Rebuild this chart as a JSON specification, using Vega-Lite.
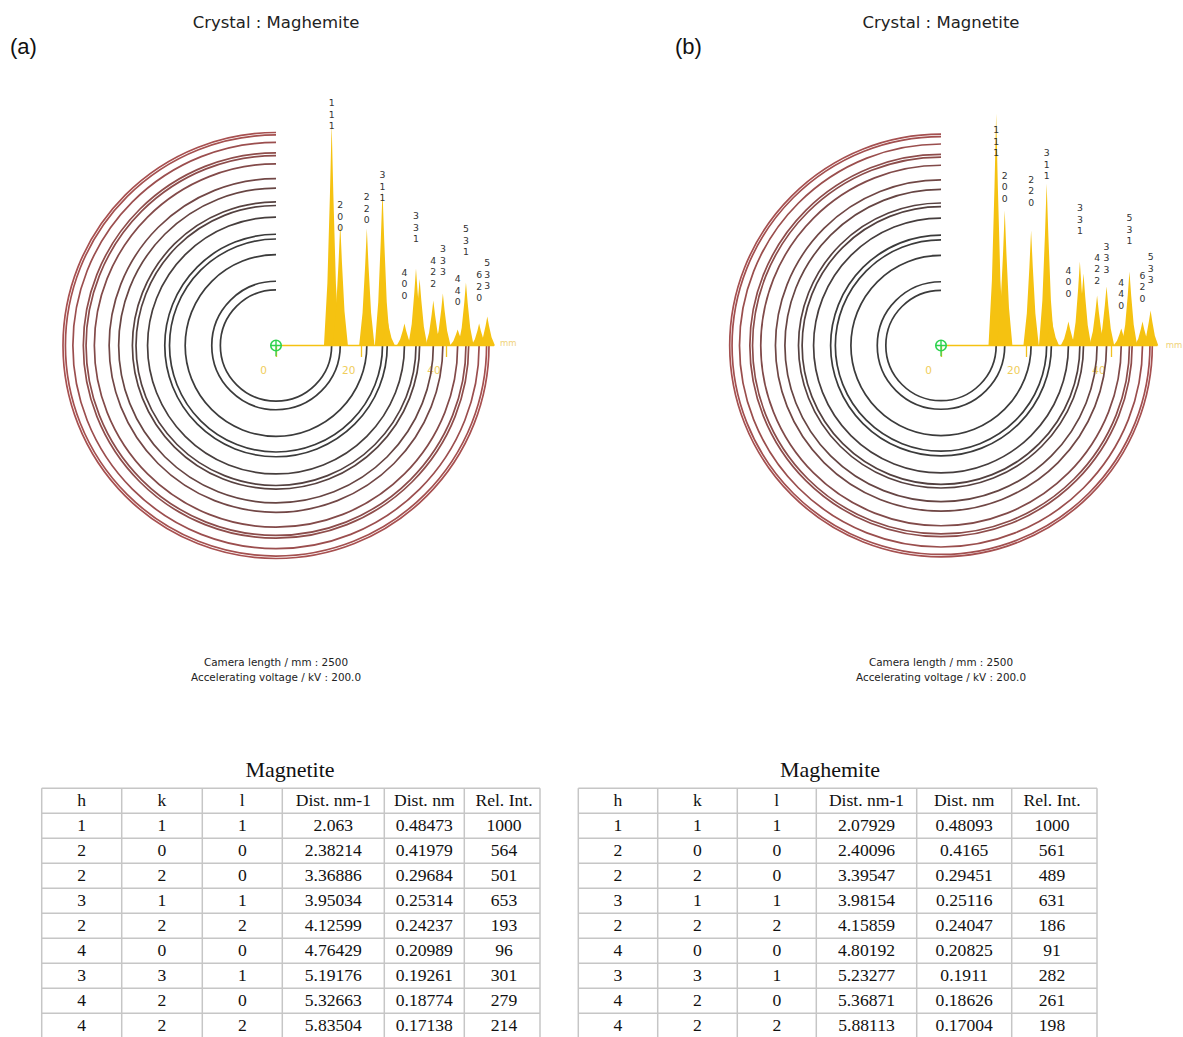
{
"$schema": "https://vega.github.io/schema/vega-lite/v6.json",
"width": 1183, "height": 1037, "autosize": "none", "padding": 0, "background": "white",
"config": {"view": {"stroke": null}},
"data": {"values": [{}]},
"datasets": {
"ringsA": [{"hkl":"111","r":13.06},{"hkl":"200","r":15.08},{"hkl":"220","r":21.32},{"hkl":"311","r":25.0},{"hkl":"222","r":26.11},{"hkl":"400","r":30.15},{"hkl":"331","r":32.86},{"hkl":"420","r":33.71},{"hkl":"422","r":36.93},{"hkl":"333","r":39.17},{"hkl":"440","r":42.64},{"hkl":"531","r":44.59},{"hkl":"442","r":45.23},{"hkl":"620","r":47.68},{"hkl":"533","r":49.43},{"hkl":"622","r":50.0}],
"ringsB": [{"hkl":"111","r":12.95},{"hkl":"200","r":14.96},{"hkl":"220","r":21.15},{"hkl":"311","r":24.8},{"hkl":"222","r":25.91},{"hkl":"400","r":29.91},{"hkl":"331","r":32.6},{"hkl":"420","r":33.45},{"hkl":"422","r":36.64},{"hkl":"333","r":38.86},{"hkl":"440","r":42.31},{"hkl":"531","r":44.24},{"hkl":"442","r":44.87},{"hkl":"620","r":47.3},{"hkl":"533","r":49.05},{"hkl":"622","r":49.6}],
"labA": [{"hkl":["1","1","1"],"r":13.06,"ly":1110},{"hkl":["2","0","0"],"r":15.08,"ly":650},{"hkl":["2","2","0"],"r":21.32,"ly":685},{"hkl":["3","1","1"],"r":25.0,"ly":786},{"hkl":["4","0","0"],"r":30.15,"ly":346},{"hkl":["3","3","1"],"r":32.86,"ly":601},{"hkl":["4","2","2"],"r":36.93,"ly":400},{"hkl":["3","3","3"],"r":39.17,"ly":451},{"hkl":["4","4","0"],"r":42.64,"ly":317},{"hkl":["5","3","1"],"r":44.59,"ly":541},{"hkl":["6","2","0"],"r":47.68,"ly":335},{"hkl":["5","3","3"],"r":49.6,"ly":389}],
"labB": [{"hkl":["1","1","1"],"r":12.95,"ly":946},{"hkl":["2","0","0"],"r":14.96,"ly":748},{"hkl":["2","2","0"],"r":21.15,"ly":731},{"hkl":["3","1","1"],"r":24.8,"ly":846},{"hkl":["4","0","0"],"r":29.91,"ly":340},{"hkl":["3","3","1"],"r":32.6,"ly":609},{"hkl":["4","2","2"],"r":36.64,"ly":396},{"hkl":["3","3","3"],"r":38.86,"ly":443},{"hkl":["4","4","0"],"r":42.31,"ly":287},{"hkl":["5","3","1"],"r":44.24,"ly":566},{"hkl":["6","2","0"],"r":47.3,"ly":318},{"hkl":["5","3","3"],"r":49.2,"ly":397}],
"profA": [
{"p":"111","x":11.26,"y":0},{"p":"111","x":12.06,"y":280},{"p":"111","x":12.66,"y":680},{"p":"111","x":13.06,"y":1000},{"p":"111","x":13.46,"y":680},{"p":"111","x":14.06,"y":280},{"p":"111","x":14.86,"y":0},
{"p":"200","x":13.28,"y":0},{"p":"200","x":14.08,"y":154},{"p":"200","x":14.68,"y":374},{"p":"200","x":15.08,"y":550},{"p":"200","x":15.48,"y":374},{"p":"200","x":16.08,"y":154},{"p":"200","x":16.88,"y":0},
{"p":"220","x":19.52,"y":0},{"p":"220","x":20.32,"y":148},{"p":"220","x":20.92,"y":358},{"p":"220","x":21.32,"y":527},{"p":"220","x":21.72,"y":358},{"p":"220","x":22.32,"y":148},{"p":"220","x":23.12,"y":0},
{"p":"311","x":23.2,"y":0},{"p":"311","x":24.0,"y":195},{"p":"311","x":24.6,"y":475},{"p":"311","x":25.0,"y":698},{"p":"311","x":25.4,"y":475},{"p":"311","x":26.0,"y":195},{"p":"311","x":26.8,"y":0},
{"p":"222","x":24.31,"y":0},{"p":"222","x":25.11,"y":34},{"p":"222","x":25.71,"y":82},{"p":"222","x":26.11,"y":120},{"p":"222","x":26.51,"y":82},{"p":"222","x":27.11,"y":34},{"p":"222","x":27.91,"y":0},
{"p":"400","x":28.35,"y":0},{"p":"400","x":29.15,"y":28},{"p":"400","x":29.75,"y":67},{"p":"400","x":30.15,"y":99},{"p":"400","x":30.55,"y":67},{"p":"400","x":31.15,"y":28},{"p":"400","x":31.95,"y":0},
{"p":"331","x":31.06,"y":0},{"p":"331","x":31.86,"y":97},{"p":"331","x":32.46,"y":236},{"p":"331","x":32.86,"y":347},{"p":"331","x":33.26,"y":236},{"p":"331","x":33.86,"y":97},{"p":"331","x":34.66,"y":0},
{"p":"420","x":31.91,"y":0},{"p":"420","x":32.71,"y":84},{"p":"420","x":33.31,"y":204},{"p":"420","x":33.71,"y":300},{"p":"420","x":34.11,"y":204},{"p":"420","x":34.71,"y":84},{"p":"420","x":35.51,"y":0},
{"p":"422","x":35.13,"y":0},{"p":"422","x":35.93,"y":57},{"p":"422","x":36.53,"y":138},{"p":"422","x":36.93,"y":203},{"p":"422","x":37.33,"y":138},{"p":"422","x":37.93,"y":57},{"p":"422","x":38.73,"y":0},
{"p":"333","x":37.37,"y":0},{"p":"333","x":38.17,"y":66},{"p":"333","x":38.77,"y":159},{"p":"333","x":39.17,"y":234},{"p":"333","x":39.57,"y":159},{"p":"333","x":40.17,"y":66},{"p":"333","x":40.97,"y":0},
{"p":"440","x":40.84,"y":0},{"p":"440","x":41.64,"y":20},{"p":"440","x":42.24,"y":49},{"p":"440","x":42.64,"y":72},{"p":"440","x":43.04,"y":49},{"p":"440","x":43.64,"y":20},{"p":"440","x":44.44,"y":0},
{"p":"531","x":42.79,"y":0},{"p":"531","x":43.59,"y":80},{"p":"531","x":44.19,"y":193},{"p":"531","x":44.59,"y":284},{"p":"531","x":44.99,"y":193},{"p":"531","x":45.59,"y":80},{"p":"531","x":46.39,"y":0},
{"p":"620","x":45.88,"y":0},{"p":"620","x":46.68,"y":28},{"p":"620","x":47.28,"y":67},{"p":"620","x":47.68,"y":99},{"p":"620","x":48.08,"y":67},{"p":"620","x":48.68,"y":28},{"p":"620","x":49.48,"y":0},
{"p":"533","x":47.8,"y":0},{"p":"533","x":48.6,"y":37},{"p":"533","x":49.2,"y":89},{"p":"533","x":49.6,"y":131},{"p":"533","x":50.0,"y":89},{"p":"533","x":50.6,"y":37},{"p":"533","x":51.4,"y":0}],
"profB": [
{"p":"111","x":11.15,"y":0},{"p":"111","x":11.95,"y":280},{"p":"111","x":12.55,"y":680},{"p":"111","x":12.95,"y":1000},{"p":"111","x":13.35,"y":680},{"p":"111","x":13.95,"y":280},{"p":"111","x":14.75,"y":0},
{"p":"200","x":13.16,"y":0},{"p":"200","x":13.96,"y":163},{"p":"200","x":14.56,"y":396},{"p":"200","x":14.96,"y":582},{"p":"200","x":15.36,"y":396},{"p":"200","x":15.96,"y":163},{"p":"200","x":16.76,"y":0},
{"p":"220","x":19.35,"y":0},{"p":"220","x":20.15,"y":139},{"p":"220","x":20.75,"y":337},{"p":"220","x":21.15,"y":496},{"p":"220","x":21.55,"y":337},{"p":"220","x":22.15,"y":139},{"p":"220","x":22.95,"y":0},
{"p":"311","x":23.0,"y":0},{"p":"311","x":23.8,"y":195},{"p":"311","x":24.4,"y":475},{"p":"311","x":24.8,"y":698},{"p":"311","x":25.2,"y":475},{"p":"311","x":25.8,"y":195},{"p":"311","x":26.6,"y":0},
{"p":"222","x":24.11,"y":0},{"p":"222","x":24.91,"y":34},{"p":"222","x":25.51,"y":82},{"p":"222","x":25.91,"y":120},{"p":"222","x":26.31,"y":82},{"p":"222","x":26.91,"y":34},{"p":"222","x":27.71,"y":0},
{"p":"400","x":28.11,"y":0},{"p":"400","x":28.91,"y":29},{"p":"400","x":29.51,"y":70},{"p":"400","x":29.91,"y":103},{"p":"400","x":30.31,"y":70},{"p":"400","x":30.91,"y":29},{"p":"400","x":31.71,"y":0},
{"p":"331","x":30.8,"y":0},{"p":"331","x":31.6,"y":101},{"p":"331","x":32.2,"y":246},{"p":"331","x":32.6,"y":362},{"p":"331","x":33.0,"y":246},{"p":"331","x":33.6,"y":101},{"p":"331","x":34.4,"y":0},
{"p":"420","x":31.65,"y":0},{"p":"420","x":32.45,"y":87},{"p":"420","x":33.05,"y":211},{"p":"420","x":33.45,"y":310},{"p":"420","x":33.85,"y":211},{"p":"420","x":34.45,"y":87},{"p":"420","x":35.25,"y":0},
{"p":"422","x":34.84,"y":0},{"p":"422","x":35.64,"y":60},{"p":"422","x":36.24,"y":147},{"p":"422","x":36.64,"y":216},{"p":"422","x":37.04,"y":147},{"p":"422","x":37.64,"y":60},{"p":"422","x":38.44,"y":0},
{"p":"333","x":37.06,"y":0},{"p":"333","x":37.86,"y":71},{"p":"333","x":38.46,"y":173},{"p":"333","x":38.86,"y":254},{"p":"333","x":39.26,"y":173},{"p":"333","x":39.86,"y":71},{"p":"333","x":40.66,"y":0},
{"p":"440","x":40.51,"y":0},{"p":"440","x":41.31,"y":20},{"p":"440","x":41.91,"y":50},{"p":"440","x":42.31,"y":73},{"p":"440","x":42.71,"y":50},{"p":"440","x":43.31,"y":20},{"p":"440","x":44.11,"y":0},
{"p":"531","x":42.44,"y":0},{"p":"531","x":43.24,"y":89},{"p":"531","x":43.84,"y":217},{"p":"531","x":44.24,"y":319},{"p":"531","x":44.64,"y":217},{"p":"531","x":45.24,"y":89},{"p":"531","x":46.04,"y":0},
{"p":"620","x":45.5,"y":0},{"p":"620","x":46.3,"y":29},{"p":"620","x":46.9,"y":70},{"p":"620","x":47.3,"y":103},{"p":"620","x":47.7,"y":70},{"p":"620","x":48.3,"y":29},{"p":"620","x":49.1,"y":0},
{"p":"533","x":47.4,"y":0},{"p":"533","x":48.2,"y":42},{"p":"533","x":48.8,"y":103},{"p":"533","x":49.2,"y":151},{"p":"533","x":49.6,"y":103},{"p":"533","x":50.2,"y":42},{"p":"533","x":51.0,"y":0}],
"tabA": [
{"row":0,"h":"h","k":"k","l":"l","g":"Dist. nm-1","d":"Dist. nm","I":"Rel. Int."},
{"row":1,"h":"1","k":"1","l":"1","g":"2.063","d":"0.48473","I":"1000"},
{"row":2,"h":"2","k":"0","l":"0","g":"2.38214","d":"0.41979","I":"564"},
{"row":3,"h":"2","k":"2","l":"0","g":"3.36886","d":"0.29684","I":"501"},
{"row":4,"h":"3","k":"1","l":"1","g":"3.95034","d":"0.25314","I":"653"},
{"row":5,"h":"2","k":"2","l":"2","g":"4.12599","d":"0.24237","I":"193"},
{"row":6,"h":"4","k":"0","l":"0","g":"4.76429","d":"0.20989","I":"96"},
{"row":7,"h":"3","k":"3","l":"1","g":"5.19176","d":"0.19261","I":"301"},
{"row":8,"h":"4","k":"2","l":"0","g":"5.32663","d":"0.18774","I":"279"},
{"row":9,"h":"4","k":"2","l":"2","g":"5.83504","d":"0.17138","I":"214"}],
"tabB": [
{"row":0,"h":"h","k":"k","l":"l","g":"Dist. nm-1","d":"Dist. nm","I":"Rel. Int."},
{"row":1,"h":"1","k":"1","l":"1","g":"2.07929","d":"0.48093","I":"1000"},
{"row":2,"h":"2","k":"0","l":"0","g":"2.40096","d":"0.4165","I":"561"},
{"row":3,"h":"2","k":"2","l":"0","g":"3.39547","d":"0.29451","I":"489"},
{"row":4,"h":"3","k":"1","l":"1","g":"3.98154","d":"0.25116","I":"631"},
{"row":5,"h":"2","k":"2","l":"2","g":"4.15859","d":"0.24047","I":"186"},
{"row":6,"h":"4","k":"0","l":"0","g":"4.80192","d":"0.20825","I":"91"},
{"row":7,"h":"3","k":"3","l":"1","g":"5.23277","d":"0.1911","I":"282"},
{"row":8,"h":"4","k":"2","l":"0","g":"5.36871","d":"0.18626","I":"261"},
{"row":9,"h":"4","k":"2","l":"2","g":"5.88113","d":"0.17004","I":"198"}]
},
"layer": [
{"data":{"name":"tabA"},"mark":{"type":"rule","color":"#c6c6c6","strokeWidth":1.5,"yOffset":-12.5},"encoding":{"x":{"datum":41.7,"type":"quantitative","scale":{"domain":[0,1183],"nice":false,"zero":false},"axis":null},"x2":{"datum":540},"y":{"field":"row","type":"quantitative","scale":{"domain":[-32.028,9.452],"nice":false,"zero":false,"reverse":true},"axis":null}}},
{"data":{"name":"tabB"},"mark":{"type":"rule","color":"#c6c6c6","strokeWidth":1.5,"yOffset":-12.5},"encoding":{"x":{"datum":578.3,"type":"quantitative","scale":{"domain":[0,1183],"nice":false,"zero":false},"axis":null},"x2":{"datum":1097},"y":{"field":"row","type":"quantitative","scale":{"domain":[-32.028,9.452],"nice":false,"zero":false,"reverse":true},"axis":null}}},
{"layer":[
{"mark":{"type":"rule","color":"#c6c6c6","strokeWidth":1.5},"encoding":{"x":{"datum":41.7,"type":"quantitative","scale":{"domain":[0,1183],"nice":false,"zero":false},"axis":null},"y":{"datum":-0.5,"type":"quantitative","scale":{"domain":[-32.028,9.452],"nice":false,"zero":false,"reverse":true},"axis":null},"y2":{"datum":9.6}}},
{"mark":{"type":"rule","color":"#c6c6c6","strokeWidth":1.5},"encoding":{"x":{"datum":121.7,"type":"quantitative","scale":{"domain":[0,1183],"nice":false,"zero":false},"axis":null},"y":{"datum":-0.5,"type":"quantitative","scale":{"domain":[-32.028,9.452],"nice":false,"zero":false,"reverse":true},"axis":null},"y2":{"datum":9.6}}},
{"mark":{"type":"rule","color":"#c6c6c6","strokeWidth":1.5},"encoding":{"x":{"datum":202.3,"type":"quantitative","scale":{"domain":[0,1183],"nice":false,"zero":false},"axis":null},"y":{"datum":-0.5,"type":"quantitative","scale":{"domain":[-32.028,9.452],"nice":false,"zero":false,"reverse":true},"axis":null},"y2":{"datum":9.6}}},
{"mark":{"type":"rule","color":"#c6c6c6","strokeWidth":1.5},"encoding":{"x":{"datum":282.3,"type":"quantitative","scale":{"domain":[0,1183],"nice":false,"zero":false},"axis":null},"y":{"datum":-0.5,"type":"quantitative","scale":{"domain":[-32.028,9.452],"nice":false,"zero":false,"reverse":true},"axis":null},"y2":{"datum":9.6}}},
{"mark":{"type":"rule","color":"#c6c6c6","strokeWidth":1.5},"encoding":{"x":{"datum":384.3,"type":"quantitative","scale":{"domain":[0,1183],"nice":false,"zero":false},"axis":null},"y":{"datum":-0.5,"type":"quantitative","scale":{"domain":[-32.028,9.452],"nice":false,"zero":false,"reverse":true},"axis":null},"y2":{"datum":9.6}}},
{"mark":{"type":"rule","color":"#c6c6c6","strokeWidth":1.5},"encoding":{"x":{"datum":464.3,"type":"quantitative","scale":{"domain":[0,1183],"nice":false,"zero":false},"axis":null},"y":{"datum":-0.5,"type":"quantitative","scale":{"domain":[-32.028,9.452],"nice":false,"zero":false,"reverse":true},"axis":null},"y2":{"datum":9.6}}},
{"mark":{"type":"rule","color":"#c6c6c6","strokeWidth":1.5},"encoding":{"x":{"datum":540,"type":"quantitative","scale":{"domain":[0,1183],"nice":false,"zero":false},"axis":null},"y":{"datum":-0.5,"type":"quantitative","scale":{"domain":[-32.028,9.452],"nice":false,"zero":false,"reverse":true},"axis":null},"y2":{"datum":9.6}}},
{"mark":{"type":"rule","color":"#c6c6c6","strokeWidth":1.5},"encoding":{"x":{"datum":578.3,"type":"quantitative","scale":{"domain":[0,1183],"nice":false,"zero":false},"axis":null},"y":{"datum":-0.5,"type":"quantitative","scale":{"domain":[-32.028,9.452],"nice":false,"zero":false,"reverse":true},"axis":null},"y2":{"datum":9.6}}},
{"mark":{"type":"rule","color":"#c6c6c6","strokeWidth":1.5},"encoding":{"x":{"datum":657.7,"type":"quantitative","scale":{"domain":[0,1183],"nice":false,"zero":false},"axis":null},"y":{"datum":-0.5,"type":"quantitative","scale":{"domain":[-32.028,9.452],"nice":false,"zero":false,"reverse":true},"axis":null},"y2":{"datum":9.6}}},
{"mark":{"type":"rule","color":"#c6c6c6","strokeWidth":1.5},"encoding":{"x":{"datum":737.3,"type":"quantitative","scale":{"domain":[0,1183],"nice":false,"zero":false},"axis":null},"y":{"datum":-0.5,"type":"quantitative","scale":{"domain":[-32.028,9.452],"nice":false,"zero":false,"reverse":true},"axis":null},"y2":{"datum":9.6}}},
{"mark":{"type":"rule","color":"#c6c6c6","strokeWidth":1.5},"encoding":{"x":{"datum":816.3,"type":"quantitative","scale":{"domain":[0,1183],"nice":false,"zero":false},"axis":null},"y":{"datum":-0.5,"type":"quantitative","scale":{"domain":[-32.028,9.452],"nice":false,"zero":false,"reverse":true},"axis":null},"y2":{"datum":9.6}}},
{"mark":{"type":"rule","color":"#c6c6c6","strokeWidth":1.5},"encoding":{"x":{"datum":916.7,"type":"quantitative","scale":{"domain":[0,1183],"nice":false,"zero":false},"axis":null},"y":{"datum":-0.5,"type":"quantitative","scale":{"domain":[-32.028,9.452],"nice":false,"zero":false,"reverse":true},"axis":null},"y2":{"datum":9.6}}},
{"mark":{"type":"rule","color":"#c6c6c6","strokeWidth":1.5},"encoding":{"x":{"datum":1011.7,"type":"quantitative","scale":{"domain":[0,1183],"nice":false,"zero":false},"axis":null},"y":{"datum":-0.5,"type":"quantitative","scale":{"domain":[-32.028,9.452],"nice":false,"zero":false,"reverse":true},"axis":null},"y2":{"datum":9.6}}},
{"mark":{"type":"rule","color":"#c6c6c6","strokeWidth":1.5},"encoding":{"x":{"datum":1097,"type":"quantitative","scale":{"domain":[0,1183],"nice":false,"zero":false},"axis":null},"y":{"datum":-0.5,"type":"quantitative","scale":{"domain":[-32.028,9.452],"nice":false,"zero":false,"reverse":true},"axis":null},"y2":{"datum":9.6}}},
{"data":{"name":"tabA"},"mark":{"type":"text","font":"Liberation Serif","fontSize":17.6,"color":"#111","align":"center","baseline":"middle"},"encoding":{"x":{"datum":81.7,"type":"quantitative","scale":{"domain":[0,1183],"nice":false,"zero":false},"axis":null},"y":{"field":"row","type":"quantitative","scale":{"domain":[-32.028,9.452],"nice":false,"zero":false,"reverse":true},"axis":null},"text":{"field":"h","type":"nominal"}}},
{"data":{"name":"tabA"},"mark":{"type":"text","font":"Liberation Serif","fontSize":17.6,"color":"#111","align":"center","baseline":"middle"},"encoding":{"x":{"datum":162,"type":"quantitative","scale":{"domain":[0,1183],"nice":false,"zero":false},"axis":null},"y":{"field":"row","type":"quantitative","scale":{"domain":[-32.028,9.452],"nice":false,"zero":false,"reverse":true},"axis":null},"text":{"field":"k","type":"nominal"}}},
{"data":{"name":"tabA"},"mark":{"type":"text","font":"Liberation Serif","fontSize":17.6,"color":"#111","align":"center","baseline":"middle"},"encoding":{"x":{"datum":242.3,"type":"quantitative","scale":{"domain":[0,1183],"nice":false,"zero":false},"axis":null},"y":{"field":"row","type":"quantitative","scale":{"domain":[-32.028,9.452],"nice":false,"zero":false,"reverse":true},"axis":null},"text":{"field":"l","type":"nominal"}}},
{"data":{"name":"tabA"},"mark":{"type":"text","font":"Liberation Serif","fontSize":17.6,"color":"#111","align":"center","baseline":"middle"},"encoding":{"x":{"datum":333.3,"type":"quantitative","scale":{"domain":[0,1183],"nice":false,"zero":false},"axis":null},"y":{"field":"row","type":"quantitative","scale":{"domain":[-32.028,9.452],"nice":false,"zero":false,"reverse":true},"axis":null},"text":{"field":"g","type":"nominal"}}},
{"data":{"name":"tabA"},"mark":{"type":"text","font":"Liberation Serif","fontSize":17.6,"color":"#111","align":"center","baseline":"middle"},"encoding":{"x":{"datum":424.3,"type":"quantitative","scale":{"domain":[0,1183],"nice":false,"zero":false},"axis":null},"y":{"field":"row","type":"quantitative","scale":{"domain":[-32.028,9.452],"nice":false,"zero":false,"reverse":true},"axis":null},"text":{"field":"d","type":"nominal"}}},
{"data":{"name":"tabA"},"mark":{"type":"text","font":"Liberation Serif","fontSize":17.6,"color":"#111","align":"center","baseline":"middle"},"encoding":{"x":{"datum":504,"type":"quantitative","scale":{"domain":[0,1183],"nice":false,"zero":false},"axis":null},"y":{"field":"row","type":"quantitative","scale":{"domain":[-32.028,9.452],"nice":false,"zero":false,"reverse":true},"axis":null},"text":{"field":"I","type":"nominal"}}},
{"data":{"name":"tabB"},"mark":{"type":"text","font":"Liberation Serif","fontSize":17.6,"color":"#111","align":"center","baseline":"middle"},"encoding":{"x":{"datum":618,"type":"quantitative","scale":{"domain":[0,1183],"nice":false,"zero":false},"axis":null},"y":{"field":"row","type":"quantitative","scale":{"domain":[-32.028,9.452],"nice":false,"zero":false,"reverse":true},"axis":null},"text":{"field":"h","type":"nominal"}}},
{"data":{"name":"tabB"},"mark":{"type":"text","font":"Liberation Serif","fontSize":17.6,"color":"#111","align":"center","baseline":"middle"},"encoding":{"x":{"datum":697.5,"type":"quantitative","scale":{"domain":[0,1183],"nice":false,"zero":false},"axis":null},"y":{"field":"row","type":"quantitative","scale":{"domain":[-32.028,9.452],"nice":false,"zero":false,"reverse":true},"axis":null},"text":{"field":"k","type":"nominal"}}},
{"data":{"name":"tabB"},"mark":{"type":"text","font":"Liberation Serif","fontSize":17.6,"color":"#111","align":"center","baseline":"middle"},"encoding":{"x":{"datum":776.8,"type":"quantitative","scale":{"domain":[0,1183],"nice":false,"zero":false},"axis":null},"y":{"field":"row","type":"quantitative","scale":{"domain":[-32.028,9.452],"nice":false,"zero":false,"reverse":true},"axis":null},"text":{"field":"l","type":"nominal"}}},
{"data":{"name":"tabB"},"mark":{"type":"text","font":"Liberation Serif","fontSize":17.6,"color":"#111","align":"center","baseline":"middle"},"encoding":{"x":{"datum":866.5,"type":"quantitative","scale":{"domain":[0,1183],"nice":false,"zero":false},"axis":null},"y":{"field":"row","type":"quantitative","scale":{"domain":[-32.028,9.452],"nice":false,"zero":false,"reverse":true},"axis":null},"text":{"field":"g","type":"nominal"}}},
{"data":{"name":"tabB"},"mark":{"type":"text","font":"Liberation Serif","fontSize":17.6,"color":"#111","align":"center","baseline":"middle"},"encoding":{"x":{"datum":964.2,"type":"quantitative","scale":{"domain":[0,1183],"nice":false,"zero":false},"axis":null},"y":{"field":"row","type":"quantitative","scale":{"domain":[-32.028,9.452],"nice":false,"zero":false,"reverse":true},"axis":null},"text":{"field":"d","type":"nominal"}}},
{"data":{"name":"tabB"},"mark":{"type":"text","font":"Liberation Serif","fontSize":17.6,"color":"#111","align":"center","baseline":"middle"},"encoding":{"x":{"datum":1052,"type":"quantitative","scale":{"domain":[0,1183],"nice":false,"zero":false},"axis":null},"y":{"field":"row","type":"quantitative","scale":{"domain":[-32.028,9.452],"nice":false,"zero":false,"reverse":true},"axis":null},"text":{"field":"I","type":"nominal"}}},
{"mark":{"type":"text","text":"Magnetite","font":"Liberation Serif","fontSize":22,"color":"#111","align":"center","baseline":"middle"},"encoding":{"x":{"datum":290,"type":"quantitative","scale":{"domain":[0,1183],"nice":false,"zero":false},"axis":null},"y":{"datum":-1.228,"type":"quantitative","scale":{"domain":[-32.028,9.452],"nice":false,"zero":false,"reverse":true},"axis":null}}},
{"mark":{"type":"text","text":"Maghemite","font":"Liberation Serif","fontSize":22,"color":"#111","align":"center","baseline":"middle"},"encoding":{"x":{"datum":830,"type":"quantitative","scale":{"domain":[0,1183],"nice":false,"zero":false},"axis":null},"y":{"datum":-1.228,"type":"quantitative","scale":{"domain":[-32.028,9.452],"nice":false,"zero":false,"reverse":true},"axis":null}}}
]},
{"layer":[
{"data":{"name":"profA"},"mark":{"type":"area","color":"#f5c211","opacity":1,"interpolate":"linear"},"encoding":{"x":{"field":"x","type":"quantitative","scale":{"domain":[-64.789,212.911],"nice":false,"zero":false},"axis":{"orient":"bottom","offset":-691.5,"values":[0,20,40],"domain":false,"grid":false,"ticks":true,"tickColor":"#f0c020","tickSize":11,"tickWidth":1.3,"labels":true,"labelColor":"#f0cd5a","labelFont":"DejaVu Sans","labelFontSize":10.5,"labelOffset":-13,"labelPadding":9,"labelFlush":false,"labelOverlap":false,"title":null}},"y":{"field":"y","type":"quantitative","stack":null,"scale":{"domain":[-3114.86,1556.31],"nice":false,"zero":false},"axis":null},"y2":{"datum":0},"detail":{"field":"p","type":"nominal"}}}
]},
{"layer":[
{"data":{"name":"ringsA"},"mark":{"type":"arc","filled":false,"theta":1.5707963,"theta2":6.2831853,"strokeWidth":1.7},"encoding":{"x":{"datum":0,"type":"quantitative","scale":{"domain":[-64.789,212.911],"nice":false,"zero":false},"axis":null},"y":{"datum":0,"type":"quantitative","scale":{"domain":[-162.324,81.103],"nice":false,"zero":false},"axis":null},"radius":{"field":"r","type":"quantitative","scale":{"type":"linear","domain":[0,100],"range":[0,426],"zero":true}},"radius2":{"field":"r"},"color":{"field":"r","type":"quantitative","scale":{"type":"linear","domain":[28,50],"range":["#3b3b3b","#a75050"],"clamp":true},"legend":null}}},
{"mark":{"type":"rule","color":"#f5c211","strokeWidth":1.5},"encoding":{"x":{"datum":1.2,"type":"quantitative","scale":{"domain":[-64.789,212.911],"nice":false,"zero":false},"axis":null},"x2":{"datum":51.2},"y":{"datum":0,"type":"quantitative","scale":{"domain":[-162.324,81.103],"nice":false,"zero":false},"axis":null}}},
{"mark":{"type":"rule","color":"#2fd24f","strokeWidth":1.3},"encoding":{"x":{"datum":0,"type":"quantitative","scale":{"domain":[-64.789,212.911],"nice":false,"zero":false},"axis":null},"y":{"datum":-1.1,"type":"quantitative","scale":{"domain":[-162.324,81.103],"nice":false,"zero":false},"axis":null},"y2":{"datum":-2.5}}},
{"mark":{"type":"point","shape":"circle","size":110,"filled":false,"stroke":"#2fd24f","strokeWidth":1.6,"opacity":1},"encoding":{"x":{"datum":0,"type":"quantitative","scale":{"domain":[-64.789,212.911],"nice":false,"zero":false},"axis":null},"y":{"datum":0,"type":"quantitative","scale":{"domain":[-162.324,81.103],"nice":false,"zero":false},"axis":null}}},
{"mark":{"type":"point","shape":"M-1,0H1M0,-1V1","size":110,"filled":false,"stroke":"#2fd24f","strokeWidth":1.4,"opacity":1},"encoding":{"x":{"datum":0,"type":"quantitative","scale":{"domain":[-64.789,212.911],"nice":false,"zero":false},"axis":null},"y":{"datum":0,"type":"quantitative","scale":{"domain":[-162.324,81.103],"nice":false,"zero":false},"axis":null}}},
{"mark":{"type":"text","text":"mm","font":"DejaVu Sans","fontSize":8.5,"color":"#efd27a","align":"center","baseline":"middle"},"encoding":{"x":{"datum":54.5,"type":"quantitative","scale":{"domain":[-64.789,212.911],"nice":false,"zero":false},"axis":null},"y":{"datum":0.5,"type":"quantitative","scale":{"domain":[-162.324,81.103],"nice":false,"zero":false},"axis":null}}},
{"mark":{"type":"text","text":"Crystal : Maghemite","font":"DejaVu Sans","fontSize":16.5,"color":"#222","align":"center","baseline":"middle"},"encoding":{"x":{"datum":0,"type":"quantitative","scale":{"domain":[-64.789,212.911],"nice":false,"zero":false},"axis":null},"y":{"datum":75.82,"type":"quantitative","scale":{"domain":[-162.324,81.103],"nice":false,"zero":false},"axis":null}}},
{"mark":{"type":"text","text":"(a)","font":"Liberation Sans","fontSize":22,"color":"#111","align":"left","baseline":"middle"},"encoding":{"x":{"datum":-62.44,"type":"quantitative","scale":{"domain":[-64.789,212.911],"nice":false,"zero":false},"axis":null},"y":{"datum":70.07,"type":"quantitative","scale":{"domain":[-162.324,81.103],"nice":false,"zero":false},"axis":null}}},
{"mark":{"type":"text","text":"Camera length / mm : 2500","font":"DejaVu Sans","fontSize":10.4,"color":"#222","align":"center","baseline":"middle"},"encoding":{"x":{"datum":0,"type":"quantitative","scale":{"domain":[-64.789,212.911],"nice":false,"zero":false},"axis":null},"y":{"datum":-74.53,"type":"quantitative","scale":{"domain":[-162.324,81.103],"nice":false,"zero":false},"axis":null}}},
{"mark":{"type":"text","text":"Accelerating voltage / kV : 200.0","font":"DejaVu Sans","fontSize":10.4,"color":"#222","align":"center","baseline":"middle"},"encoding":{"x":{"datum":0,"type":"quantitative","scale":{"domain":[-64.789,212.911],"nice":false,"zero":false},"axis":null},"y":{"datum":-78.05,"type":"quantitative","scale":{"domain":[-162.324,81.103],"nice":false,"zero":false},"axis":null}}}
]},
{"layer":[
{"data":{"name":"labA"},"mark":{"type":"text","font":"DejaVu Sans","fontSize":9.3,"lineHeight":11.5,"color":"#333","align":"center","baseline":"top"},"encoding":{"x":{"field":"r","type":"quantitative","scale":{"domain":[-64.789,212.911],"nice":false,"zero":false},"axis":null},"y":{"field":"ly","type":"quantitative","scale":{"domain":[-3114.86,1556.31],"nice":false,"zero":false},"axis":null},"text":{"field":"hkl","type":"nominal"}}}
]},
{"layer":[
{"data":{"name":"profB"},"mark":{"type":"area","color":"#f5c211","opacity":1,"interpolate":"linear"},"encoding":{"x":{"field":"x","type":"quantitative","scale":{"domain":[-220.892,56.808],"nice":false,"zero":false},"axis":{"orient":"bottom","offset":-691.5,"values":[0,20,40],"domain":false,"grid":false,"ticks":true,"tickColor":"#f0c020","tickSize":11,"tickWidth":1.3,"labels":true,"labelColor":"#f0cd5a","labelFont":"DejaVu Sans","labelFontSize":10.5,"labelOffset":-13,"labelPadding":9,"labelFlush":false,"labelOverlap":false,"title":null}},"y":{"field":"y","type":"quantitative","stack":null,"scale":{"domain":[-2980.6,1489.2],"nice":false,"zero":false},"axis":null},"y2":{"datum":0},"detail":{"field":"p","type":"nominal"}}}
]},
{"layer":[
{"data":{"name":"ringsB"},"mark":{"type":"arc","filled":false,"theta":1.5707963,"theta2":6.2831853,"strokeWidth":1.7},"encoding":{"x":{"datum":0,"type":"quantitative","scale":{"domain":[-220.892,56.808],"nice":false,"zero":false},"axis":null},"y":{"datum":0,"type":"quantitative","scale":{"domain":[-162.324,81.103],"nice":false,"zero":false},"axis":null},"radius":{"field":"r","type":"quantitative","scale":{"type":"linear","domain":[0,100],"range":[0,426],"zero":true}},"radius2":{"field":"r"},"color":{"field":"r","type":"quantitative","scale":{"type":"linear","domain":[28,50],"range":["#3b3b3b","#a75050"],"clamp":true},"legend":null}}},
{"mark":{"type":"rule","color":"#f5c211","strokeWidth":1.5},"encoding":{"x":{"datum":1.2,"type":"quantitative","scale":{"domain":[-220.892,56.808],"nice":false,"zero":false},"axis":null},"x2":{"datum":50.8},"y":{"datum":0,"type":"quantitative","scale":{"domain":[-162.324,81.103],"nice":false,"zero":false},"axis":null}}},
{"mark":{"type":"rule","color":"#2fd24f","strokeWidth":1.3},"encoding":{"x":{"datum":0,"type":"quantitative","scale":{"domain":[-220.892,56.808],"nice":false,"zero":false},"axis":null},"y":{"datum":-1.1,"type":"quantitative","scale":{"domain":[-162.324,81.103],"nice":false,"zero":false},"axis":null},"y2":{"datum":-2.5}}},
{"mark":{"type":"point","shape":"circle","size":110,"filled":false,"stroke":"#2fd24f","strokeWidth":1.6,"opacity":1},"encoding":{"x":{"datum":0,"type":"quantitative","scale":{"domain":[-220.892,56.808],"nice":false,"zero":false},"axis":null},"y":{"datum":0,"type":"quantitative","scale":{"domain":[-162.324,81.103],"nice":false,"zero":false},"axis":null}}},
{"mark":{"type":"point","shape":"M-1,0H1M0,-1V1","size":110,"filled":false,"stroke":"#2fd24f","strokeWidth":1.4,"opacity":1},"encoding":{"x":{"datum":0,"type":"quantitative","scale":{"domain":[-220.892,56.808],"nice":false,"zero":false},"axis":null},"y":{"datum":0,"type":"quantitative","scale":{"domain":[-162.324,81.103],"nice":false,"zero":false},"axis":null}}},
{"mark":{"type":"text","text":"mm","font":"DejaVu Sans","fontSize":8.5,"color":"#efd27a","align":"center","baseline":"middle"},"encoding":{"x":{"datum":54.7,"type":"quantitative","scale":{"domain":[-220.892,56.808],"nice":false,"zero":false},"axis":null},"y":{"datum":0.2,"type":"quantitative","scale":{"domain":[-162.324,81.103],"nice":false,"zero":false},"axis":null}}},
{"mark":{"type":"text","text":"Crystal : Magnetite","font":"DejaVu Sans","fontSize":16.5,"color":"#222","align":"center","baseline":"middle"},"encoding":{"x":{"datum":0,"type":"quantitative","scale":{"domain":[-220.892,56.808],"nice":false,"zero":false},"axis":null},"y":{"datum":75.82,"type":"quantitative","scale":{"domain":[-162.324,81.103],"nice":false,"zero":false},"axis":null}}},
{"mark":{"type":"text","text":"(b)","font":"Liberation Sans","fontSize":22,"color":"#111","align":"left","baseline":"middle"},"encoding":{"x":{"datum":-62.44,"type":"quantitative","scale":{"domain":[-220.892,56.808],"nice":false,"zero":false},"axis":null},"y":{"datum":70.07,"type":"quantitative","scale":{"domain":[-162.324,81.103],"nice":false,"zero":false},"axis":null}}},
{"mark":{"type":"text","text":"Camera length / mm : 2500","font":"DejaVu Sans","fontSize":10.4,"color":"#222","align":"center","baseline":"middle"},"encoding":{"x":{"datum":0,"type":"quantitative","scale":{"domain":[-220.892,56.808],"nice":false,"zero":false},"axis":null},"y":{"datum":-74.53,"type":"quantitative","scale":{"domain":[-162.324,81.103],"nice":false,"zero":false},"axis":null}}},
{"mark":{"type":"text","text":"Accelerating voltage / kV : 200.0","font":"DejaVu Sans","fontSize":10.4,"color":"#222","align":"center","baseline":"middle"},"encoding":{"x":{"datum":0,"type":"quantitative","scale":{"domain":[-220.892,56.808],"nice":false,"zero":false},"axis":null},"y":{"datum":-78.05,"type":"quantitative","scale":{"domain":[-162.324,81.103],"nice":false,"zero":false},"axis":null}}}
]},
{"layer":[
{"data":{"name":"labB"},"mark":{"type":"text","font":"DejaVu Sans","fontSize":9.3,"lineHeight":11.5,"color":"#333","align":"center","baseline":"top"},"encoding":{"x":{"field":"r","type":"quantitative","scale":{"domain":[-220.892,56.808],"nice":false,"zero":false},"axis":null},"y":{"field":"ly","type":"quantitative","scale":{"domain":[-2980.6,1489.2],"nice":false,"zero":false},"axis":null},"text":{"field":"hkl","type":"nominal"}}}
]}
],
"resolve": {"scale": {"x": "independent", "y": "independent", "radius": "independent", "color": "independent"}, "axis": {"x": "independent", "y": "independent"}}
}
